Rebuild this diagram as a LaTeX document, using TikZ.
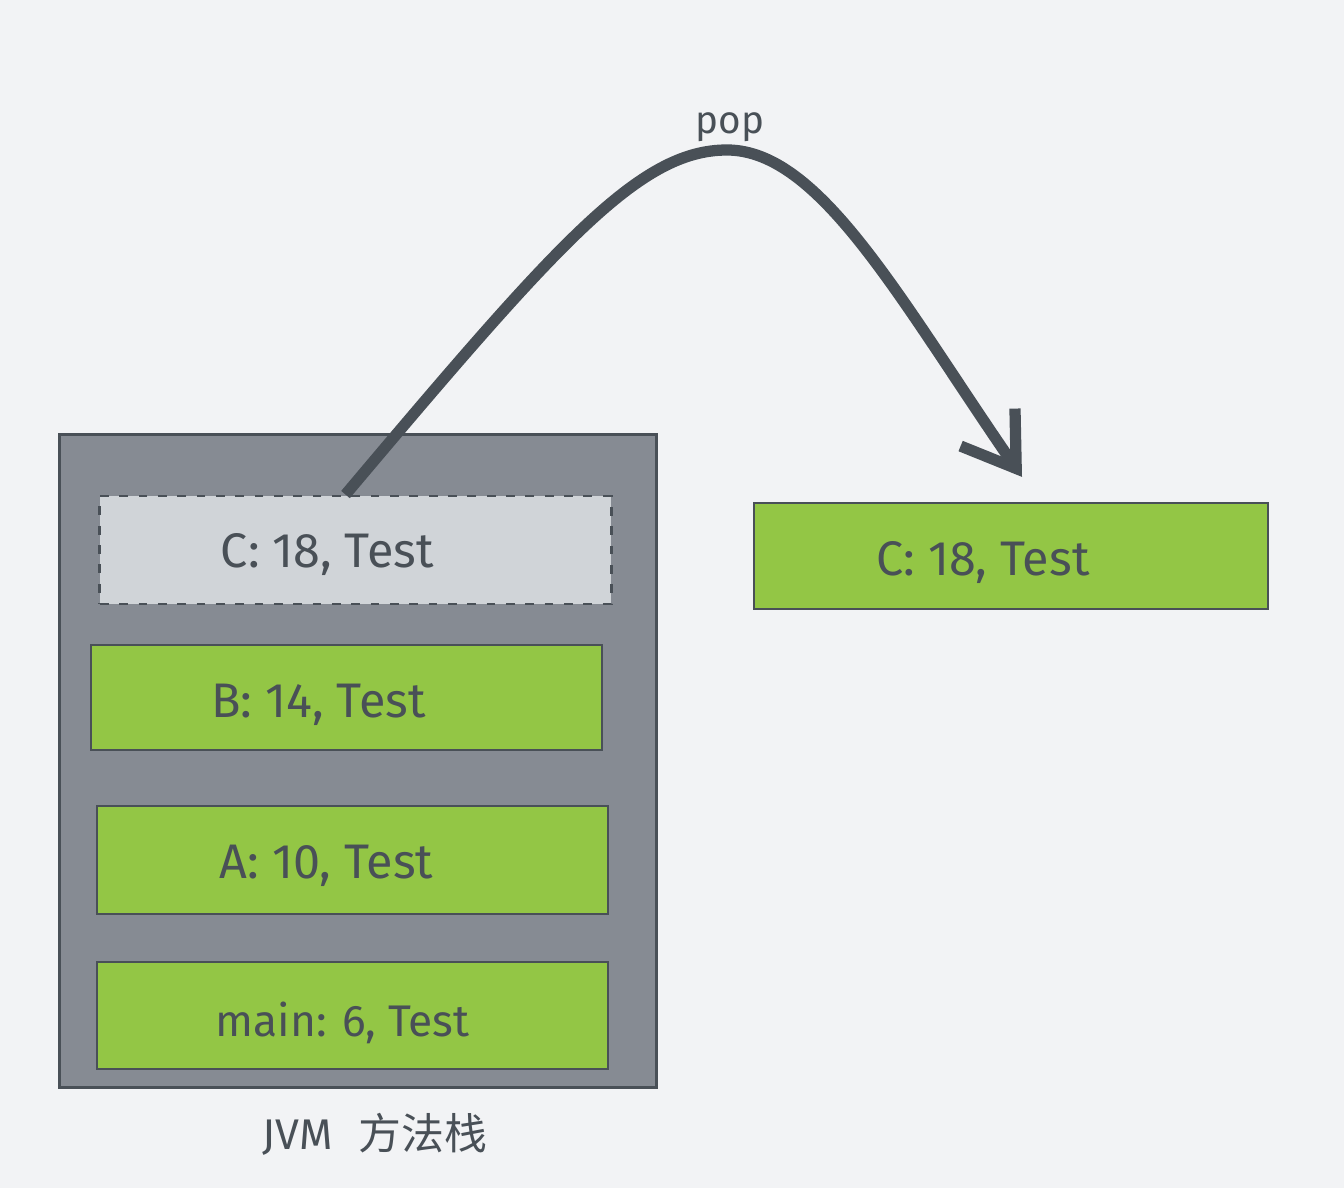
\documentclass[tikz,border=0pt]{standalone}
\usepackage{fontspec}
\setmainfont{Fira Sans}
\newfontfamily\cjk{Noto Sans CJK SC}
\usetikzlibrary{arrows.meta}
\definecolor{bgc}{HTML}{F2F3F5}
\definecolor{stackc}{HTML}{868B93}
\definecolor{greenc}{HTML}{93C645}
\definecolor{lightc}{HTML}{D0D4D8}
\definecolor{inkc}{HTML}{495057}
\tikzset{
  frame/.style={draw=inkc, line width=0.6pt, minimum width=5.11cm, inner sep=0pt},
  greenbox/.style={frame, fill=greenc},
  lbl/.style={text=inkc, font=\fontsize{13.8}{16}\selectfont, inner sep=0pt},
}
\begin{document}
\begin{tikzpicture}[x=0.01cm, y=-0.01cm]
\useasboundingbox[fill=bgc] (0,0) rectangle (1344,1188);
% stack container
\node[draw=inkc, line width=0.8pt, fill=stackc, minimum width=5.96cm, minimum height=6.52cm, inner sep=0pt] (stack) at (358,761) {};
% frames
\node[frame, fill=lightc, line width=0.8pt, dash pattern=on 2.5pt off 3pt, minimum height=1.08cm] (c1) at (355.5,550) {};
\node[greenbox, minimum height=1.05cm] (b) at (346.5,697.5) {};
\node[greenbox, minimum height=1.08cm] (a) at (352.5,860) {};
\node[greenbox, minimum height=1.07cm] (m) at (352.5,1015.5) {};
\node[greenbox, minimum width=5.14cm, minimum height=1.06cm] (c2) at (1011,556) {};
% texts
\node[lbl] (tc1) at ([xshift=-0.28cm,yshift=-0.05cm]c1.center) {C: 18, Test};
\node[lbl] (tb) at ([xshift=-0.28cm,yshift=-0.07cm]b.center) {B: 14, Test};
\node[lbl] (ta) at ([xshift=-0.26cm,yshift=-0.06cm]a.center) {A: 10, Test};
\node[lbl, font=\fontsize{12.6}{15}\selectfont] (tm) at ([xshift=-0.1cm,yshift=-0.07cm]m.center) {main: 6, Test};
\node[lbl] (tc2) at ([xshift=-0.28cm,yshift=-0.07cm]c2.center) {C: 18, Test};
\node[lbl, font=\fontsize{12.2}{15}\selectfont] (jvm) at ([xshift=0.17cm,yshift=-0.46cm]stack.south) {JVM\hspace{0.6em}{\cjk 方法栈}};
% arrow
\coordinate (start) at ([xshift=-0.1cm]c1.north);
\coordinate (tip) at ([xshift=0.11cm,yshift=0.25cm]c2.north);
\coordinate (peak) at (727,150);
\node[lbl, font=\fontsize{11}{13}\selectfont] (pop) at (730,127) {pop};
\draw[inkc, line width=3.2pt, -{Straight Barb[length=5mm,width=6.6mm]}]
  (start) .. controls (560,240) and (640,150) .. (peak)
  .. controls (820,150) and (900,300) .. (tip);
\end{tikzpicture}
\end{document}
